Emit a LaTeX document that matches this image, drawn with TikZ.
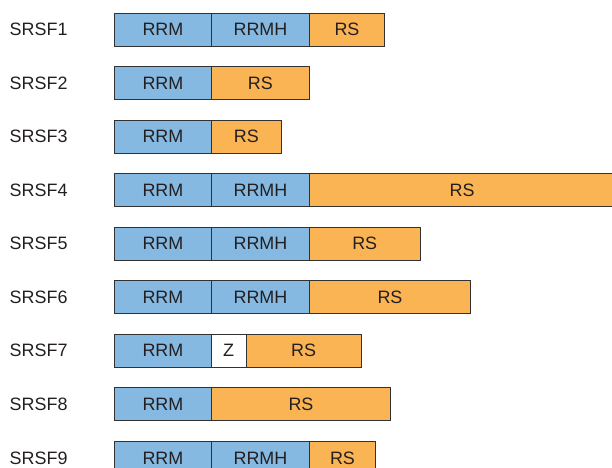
\documentclass[tikz,border=0pt]{standalone}
\usepackage{fontspec}
\setmainfont{Liberation Sans}
\definecolor{rrmblue}{RGB}{133,185,226}
\definecolor{rsorange}{RGB}{251,180,84}
\definecolor{edge}{RGB}{50,50,50}
\definecolor{ink}{RGB}{35,31,32}
\tikzset{
  seg/.style={draw=edge, line width=0.9bp, inner sep=0pt, minimum height=33bp,
              anchor=west, font=\fontsize{18}{18}\selectfont, text=ink},
  rrm/.style={seg, fill=rrmblue},
  rs/.style={seg, fill=rsorange},
  zf/.style={seg, fill=white},
  lbl/.style={anchor=west, inner sep=0pt, font=\fontsize{18}{18}\selectfont, text=ink},
  segtext/.style={inner sep=0pt, font=\fontsize{18}{18}\selectfont, text=ink},
}
\begin{document}
\begin{tikzpicture}[x=1bp, y=-1bp]
\useasboundingbox (0,0) rectangle (612,468);
\clip (0,0) rectangle (612,468);
% row centres: 29.5 + 53.55*(i-1)
% SRSF1
\node[lbl] (l1) at (9.5,29.5) {SRSF1};
\node[rrm, minimum width=97bp] (a1) at (114,29.5) {RRM};
\node[rrm, minimum width=98bp] (b1) at (211,29.5) {RRMH};
\node[rs, minimum width=75bp] (c1) at (309,29.5) {RS};
% SRSF2
\node[lbl] (l2) at (9.5,83.05) {SRSF2};
\node[rrm, minimum width=97bp] (a2) at (114,83.05) {RRM};
\node[rs, minimum width=98bp] (c2) at (211,83.05) {RS};
% SRSF3
\node[lbl] (l3) at (9.5,136.6) {SRSF3};
\node[rrm, minimum width=97bp] (a3) at (114,136.6) {RRM};
\node[rs, minimum width=70bp] (c3) at (211,136.6) {RS};
% SRSF4 (its RS region runs on past the right edge)
\node[lbl] (l4) at (9.5,190.15) {SRSF4};
\node[rrm, minimum width=97bp] (a4) at (114,190.15) {RRM};
\node[rrm, minimum width=98bp] (b4) at (211,190.15) {RRMH};
\node[rs, minimum width=330bp] (c4) at (309,190.15) {};
\node[segtext] (t4) at (462,190.15) {RS};
% SRSF5
\node[lbl] (l5) at (9.5,243.7) {SRSF5};
\node[rrm, minimum width=97bp] (a5) at (114,243.7) {RRM};
\node[rrm, minimum width=98bp] (b5) at (211,243.7) {RRMH};
\node[rs, minimum width=110.5bp] (c5) at (309,243.7) {RS};
% SRSF6
\node[lbl] (l6) at (9.5,297.25) {SRSF6};
\node[rrm, minimum width=97bp] (a6) at (114,297.25) {RRM};
\node[rrm, minimum width=98bp] (b6) at (211,297.25) {RRMH};
\node[rs, minimum width=161bp] (c6) at (309,297.25) {RS};
% SRSF7
\node[lbl] (l7) at (9.5,350.8) {SRSF7};
\node[rrm, minimum width=97bp] (a7) at (114,350.8) {RRM};
\node[zf, minimum width=34.5bp] (z7) at (211,350.8) {Z};
\node[rs, minimum width=115.5bp] (c7) at (245.5,350.8) {RS};
% SRSF8
\node[lbl] (l8) at (9.5,404.35) {SRSF8};
\node[rrm, minimum width=97bp] (a8) at (114,404.35) {RRM};
\node[rs, minimum width=179bp] (c8) at (211,404.35) {RS};
% SRSF9
\node[lbl] (l9) at (9.5,457.9) {SRSF9};
\node[rrm, minimum width=97bp] (a9) at (114,457.9) {RRM};
\node[rrm, minimum width=98bp] (b9) at (211,457.9) {RRMH};
\node[rs, minimum width=66bp] (c9) at (309,457.9) {RS};
\end{tikzpicture}
\end{document}
